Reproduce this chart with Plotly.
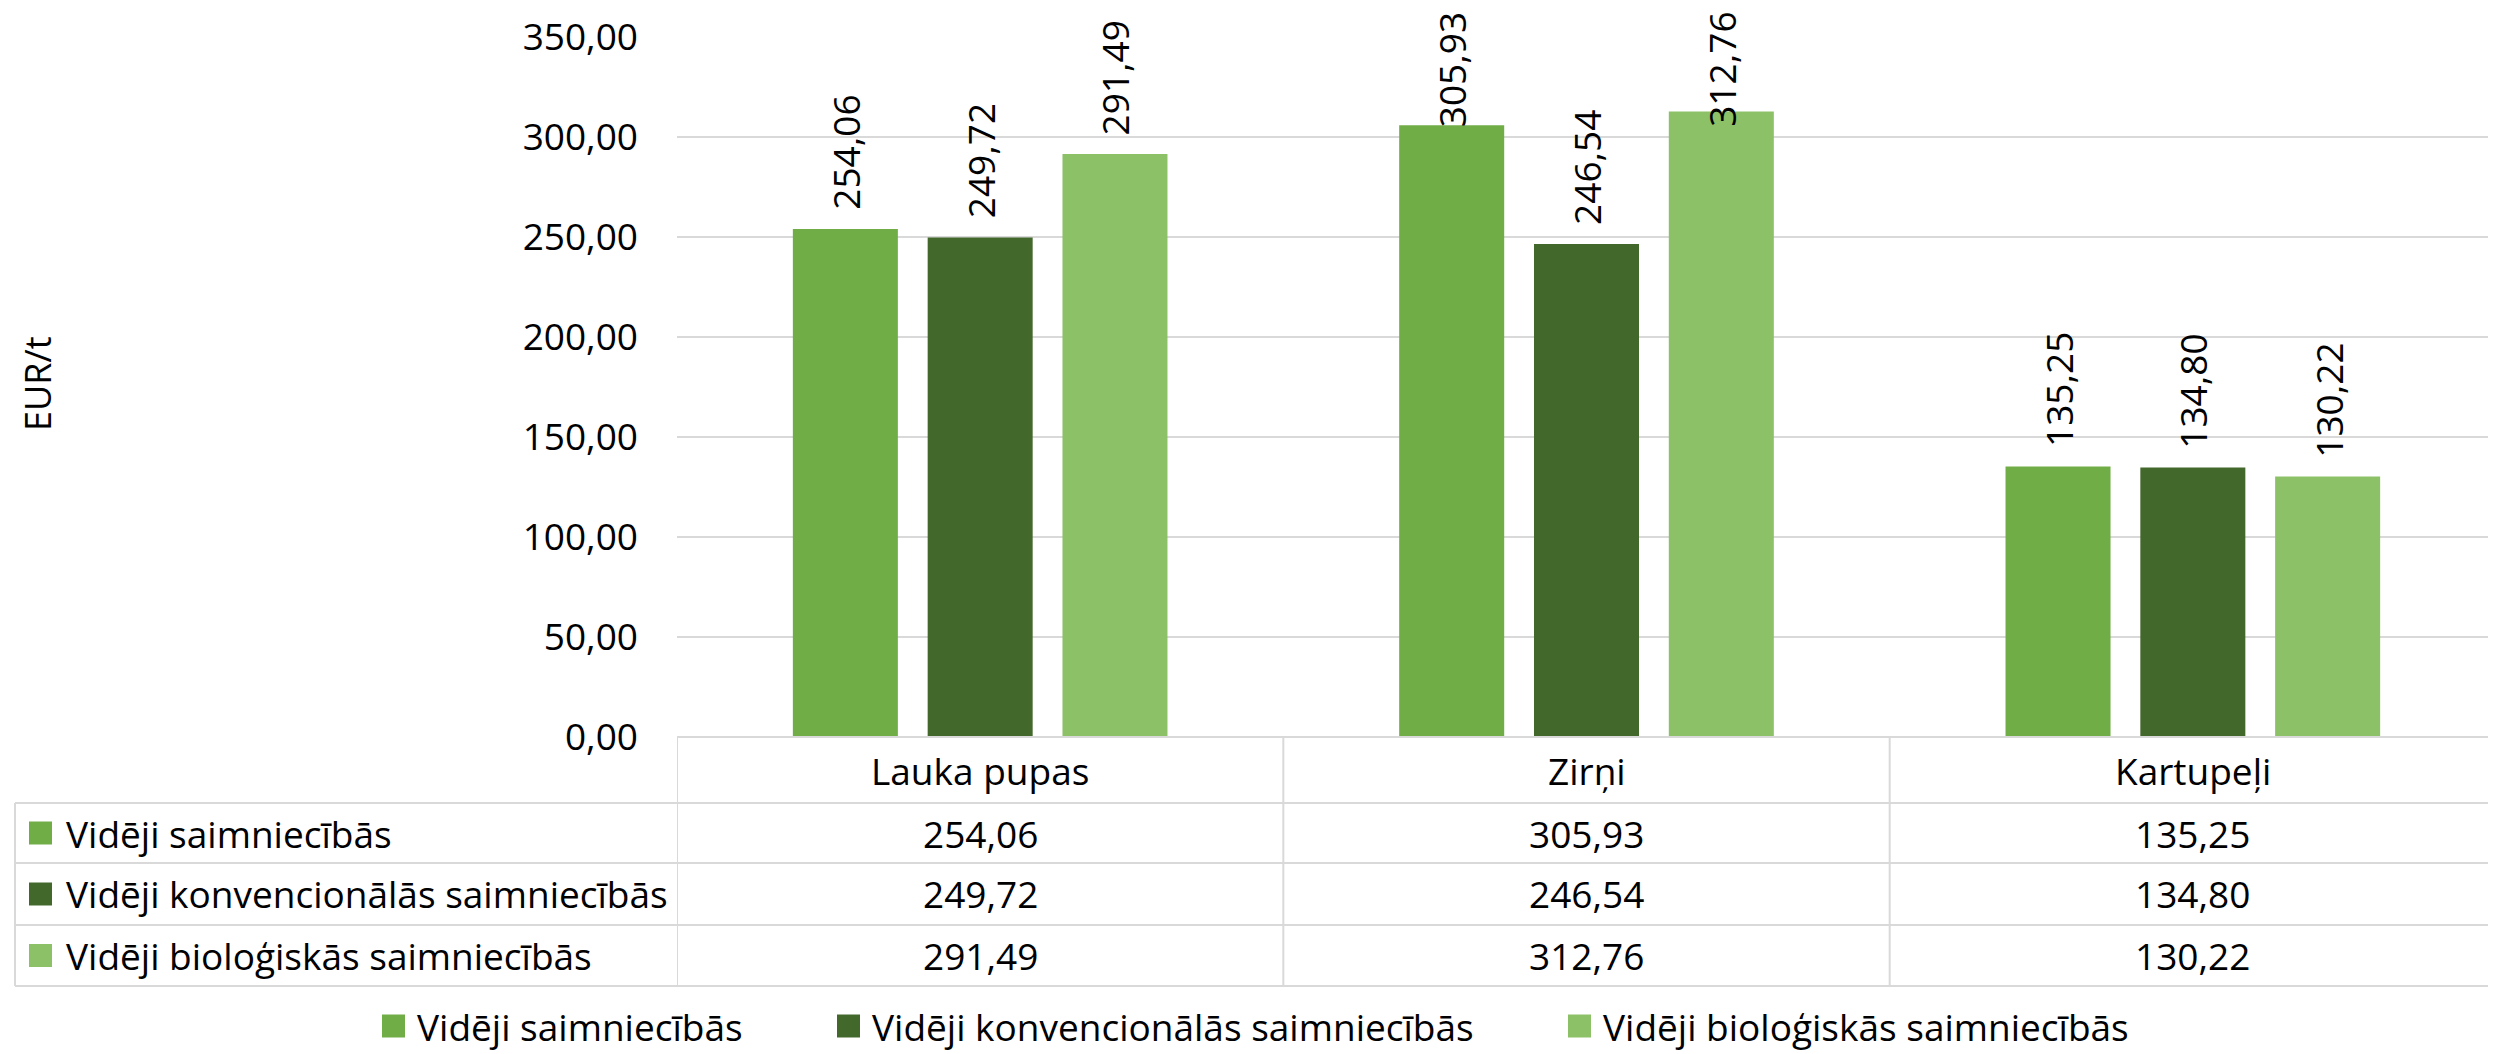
import plotly.graph_objects as go

# ---------------- data ----------------
categories = ["Lauka pupas", "Zirņi", "Kartupeļi"]
series_names = [
    "Vidēji saimniecībās",
    "Vidēji konvencionālās saimniecībās",
    "Vidēji bioloģiskās saimniecībās",
]
vid_saimn = [254.06, 305.93, 135.25]
vid_konv = [249.72, 246.54, 134.80]
vid_bio = [291.49, 312.76, 130.22]
y_ticks = [0, 50, 100, 150, 200, 250, 300, 350]
y_title = "EUR/t"

# ---------------- style ----------------
colors = ["#70AD47", "#43682B", "#8CC168"]
FONT = "Open Sans"
FS = 37
GRID = "#D9D9D9"
TXT = "#000000"

# the page body adds an 8px margin, so the figure is drawn 8px smaller and
# all screen positions below are expressed in screenshot pixels
OFF = 8
SCREEN_W, SCREEN_H = 2496, 1054
W, H = SCREEN_W - OFF, SCREEN_H - OFF
PLOT_LEFT, PLOT_TOP, PLOT_BOTTOM = 677, 37, 737   # screenshot pixels
L = PLOT_LEFT - OFF
T = PLOT_TOP - OFF
R = 0
B = SCREEN_H - PLOT_BOTTOM
PW = W - L - R
PH = H - T - B
Y_MAX = 350
BARGAP = 0.333
BARGROUPGAP = 0.221


def px_x(x):
    return (x - PLOT_LEFT) / PW


def px_y(y):
    return (PLOT_BOTTOM - y) / PH


def fmt(v):
    return f"{v:.2f}".replace(".", ",")


series = [vid_saimn, vid_konv, vid_bio]

fig = go.Figure()
for name, vals, col in zip(series_names, series, colors):
    fig.add_trace(go.Bar(
        x=categories, y=vals, name=name,
        marker=dict(color=col, line=dict(width=0)),
        showlegend=False, hoverinfo="x+y+name",
    ))

shapes = []
annotations = []

# ---- table lines ----
line = dict(color=GRID, width=2)
table_left = px_x(15)
row_edges_px = [803, 863, 925, 986]
shapes.append(dict(type="line", xref="paper", yref="paper", x0=0, x1=1,
                   y0=px_y(737), y1=px_y(737), line=line, layer="above"))
for yp in row_edges_px:
    shapes.append(dict(type="line", xref="paper", yref="paper", x0=table_left, x1=1,
                       y0=px_y(yp), y1=px_y(yp), line=line))
shapes.append(dict(type="line", xref="paper", yref="paper", x0=table_left, x1=table_left,
                   y0=px_y(803), y1=px_y(986), line=line))
for i in range(len(categories)):
    shapes.append(dict(type="line", xref="x", yref="paper", x0=i - 0.5, x1=i - 0.5,
                       y0=px_y(737), y1=px_y(986), line=line))

# ---- category header ----
for i, c in enumerate(categories):
    annotations.append(dict(x=i, xref="x", y=px_y(770), yref="paper", text=c,
                            showarrow=False, xanchor="center", yanchor="middle",
                            font=dict(family=FONT, size=FS, color=TXT)))

# ---- table rows ----
row_centers = [(row_edges_px[k] + row_edges_px[k + 1]) / 2 for k in range(3)]
for r, (name, vals, col) in enumerate(zip(series_names, series, colors)):
    yc = px_y(row_centers[r])
    shapes.append(dict(type="rect", xref="paper", yref="paper",
                       xsizemode="pixel", ysizemode="pixel",
                       xanchor=px_x(29), yanchor=yc, x0=0, x1=23, y0=-11.5, y1=11.5,
                       fillcolor=col, line=dict(width=0)))
    annotations.append(dict(x=px_x(64), xref="paper", y=yc, yref="paper", text=name,
                            showarrow=False, xanchor="left", yanchor="middle",
                            font=dict(family=FONT, size=FS, color=TXT)))
    for i, v in enumerate(vals):
        annotations.append(dict(x=i, xref="x", y=yc, yref="paper", text=fmt(v),
                                showarrow=False, xanchor="center", yanchor="middle",
                                font=dict(family=FONT, size=FS, color=TXT)))

# ---- bottom legend ----
leg_y = px_y(1026)
leg_key_px = [382, 837, 1568]
for name, col, kx in zip(series_names, colors, leg_key_px):
    shapes.append(dict(type="rect", xref="paper", yref="paper",
                       xsizemode="pixel", ysizemode="pixel",
                       xanchor=px_x(kx), yanchor=leg_y, x0=0, x1=23, y0=-11.5, y1=11.5,
                       fillcolor=col, line=dict(width=0)))
    annotations.append(dict(x=px_x(kx + 33), xref="paper", y=leg_y, yref="paper", text=name,
                            showarrow=False, xanchor="left", yanchor="middle",
                            font=dict(family=FONT, size=FS, color=TXT)))

# ---- y axis title ----
annotations.append(dict(x=px_x(38), xref="paper", y=px_y(384), yref="paper", text=y_title,
                        textangle=-90, showarrow=False, xanchor="center", yanchor="middle",
                        font=dict(family=FONT, size=36, color=TXT)))

# ---- data labels (rotated, above bars; pushed down if they would leave the chart) ----
units_per_px = Y_MAX / PH
gap_u = 17 * units_per_px
len_u = 119 * units_per_px
top_limit_u = Y_MAX + (PLOT_TOP - 10) * units_per_px
slot = (1 - BARGAP) / len(series)
for k, vals in enumerate(series):
    off = (k - (len(series) - 1) / 2) * slot
    for i, v in enumerate(vals):
        bottom = min(v + gap_u, top_limit_u - len_u)
        annotations.append(dict(x=i + off, xref="x", y=bottom, yref="y", text=fmt(v),
                                textangle=-90, showarrow=False,
                                xanchor="center", yanchor="bottom",
                                font=dict(family=FONT, size=FS, color=TXT)))

fig.update_layout(
    width=W, height=H,
    margin=dict(l=L, r=R, t=T, b=B, pad=0),
    paper_bgcolor="white", plot_bgcolor="white",
    barmode="group", bargap=BARGAP, bargroupgap=BARGROUPGAP,
    separators=", ",
    showlegend=False,
    font=dict(family=FONT, size=FS, color=TXT),
    xaxis=dict(showticklabels=False, showgrid=False, zeroline=False, showline=False,
               range=[-0.5, len(categories) - 0.5], fixedrange=True),
    yaxis=dict(range=[0, Y_MAX], tickvals=y_ticks, tickformat=".2f",
               showgrid=True, gridcolor=GRID, gridwidth=2, zeroline=False, showline=False,
               ticks="", ticklabelstandoff=38,
               tickfont=dict(family=FONT, size=FS, color=TXT), fixedrange=True),
    shapes=shapes,
    annotations=annotations,
)

fig.write_html("out.html")
